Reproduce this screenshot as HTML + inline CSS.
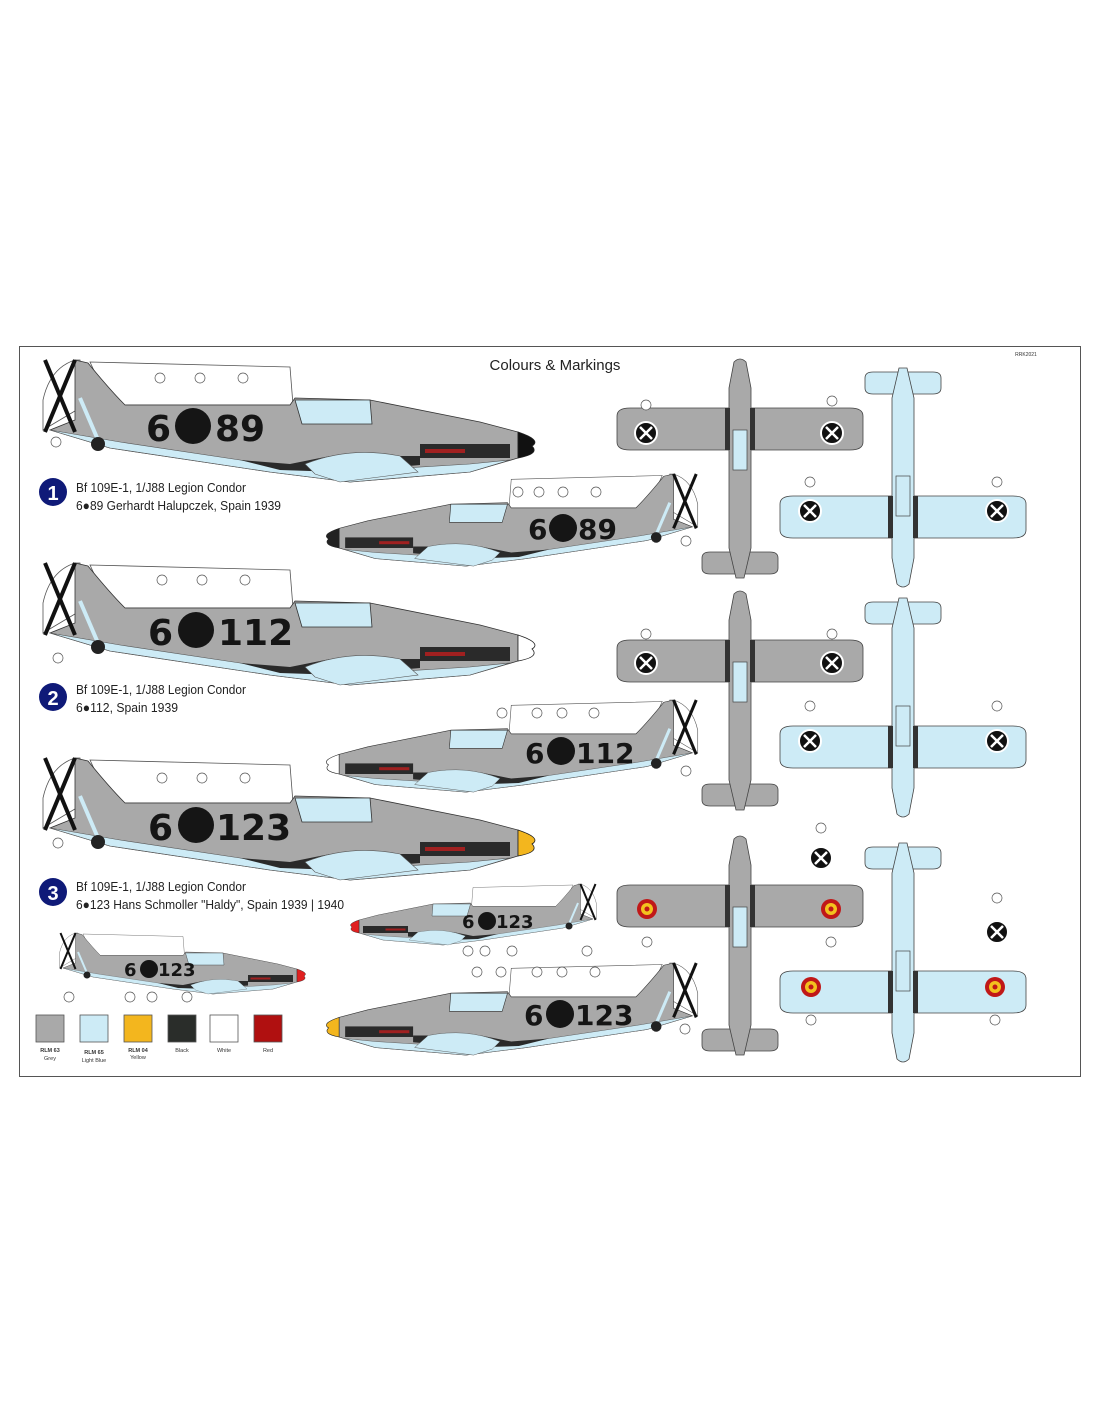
<!DOCTYPE html>
<html><head><meta charset="utf-8"><style>
html,body{margin:0;padding:0;background:#fff;}
svg{display:block;font-family:"Liberation Sans",sans-serif;}
.num{font-family:"DejaVu Sans","Liberation Sans",sans-serif;font-weight:bold;fill:#151515;}
.c{fill:#fff;stroke:#555;stroke-width:0.7}
</style></head><body>
<svg width="1100" height="1422" viewBox="0 0 1100 1422">
<defs>
<g id="side">
  <path d="M50,2 L250,7 L253,45 L70,45 Z" fill="#fff" stroke="#555" stroke-width="0.8"/>
  <path d="M3,40 Q10,8 35,0 L40,0 L45,45 L3,70 Z" fill="#fff" stroke="#555" stroke-width="0.8"/>
  <path d="M35,0 L48,3 Q70,30 85,45 L250,45 L255,38 L330,40 L440,62 L478,72 L478,98 L430,112 L310,122 L230,112 L70,88 L10,70 L35,60 Z" fill="#a9a9a9" stroke="#333" stroke-width="0.8"/>
  <path d="M10,70 L70,88 L230,112 L310,122 L430,112 L470,100 L430,104 L300,112 L240,106 L80,82 Z" fill="#cdebf6" stroke="#555" stroke-width="0.6"/>
  <path d="M200,100 L250,104 L290,96 L380,96 L380,105 L300,112 L240,110 Z" fill="#2a2a2a"/>
  <path d="M255,40 L330,40 L332,64 L262,64 Z" fill="#cdebf6" stroke="#333" stroke-width="0.8"/>
  <path d="M265,104 Q310,86 360,96 L378,112 L300,122 L275,114 Z" fill="#cdebf6" stroke="#555" stroke-width="0.6"/>
  <rect x="380" y="84" width="90" height="14" fill="#2a2a2a"/>
  <rect x="385" y="89" width="40" height="4" fill="#a02020"/>
  <path d="M478,72 Q502,80 492,86 Q500,94 478,98 Z" fill="currentColor" stroke="#222" stroke-width="0.8"/>
  <line x1="5" y1="0" x2="35" y2="72" stroke="#111" stroke-width="4"/>
  <line x1="35" y1="0" x2="5" y2="72" stroke="#111" stroke-width="4"/>
  <line x1="40" y1="38" x2="58" y2="80" stroke="#cdebf6" stroke-width="4"/>
  <circle cx="58" cy="84" r="7" fill="#222"/>
</g>
<g id="top">
  <path d="M-123,48 Q-123,40 -110,40 L110,40 Q123,40 123,48 L123,74 Q123,82 110,82 L-110,82 Q-123,82 -123,74 Z" fill="currentColor" stroke="#444" stroke-width="0.8"/>
  <path d="M-38,190 Q-38,184 -30,184 L30,184 Q38,184 38,190 L38,200 Q38,206 30,206 L-30,206 Q-38,206 -38,200 Z" fill="currentColor" stroke="#444" stroke-width="0.8"/>
  <path d="M-6,-6 Q0,-12 6,-6 L11,20 L11,180 L4,210 L-4,210 L-11,180 L-11,20 Z" fill="currentColor" stroke="#444" stroke-width="0.8"/>
  <rect x="-7" y="62" width="14" height="40" fill="#cdebf6" stroke="#444" stroke-width="0.7"/>
  <rect x="-15" y="40" width="5" height="42" fill="#333"/>
  <rect x="10" y="40" width="5" height="42" fill="#333"/>
</g>
</defs>

<rect x="19.5" y="346.5" width="1061" height="730" fill="none" stroke="#555" stroke-width="1"/>
<text x="555" y="370" font-size="15" text-anchor="middle" fill="#222">Colours &amp; Markings</text>
<text x="1026" y="356" font-size="5" text-anchor="middle" fill="#333">RRK2021</text>

<use href="#side" x="40" y="360" style="color:#111"/>
<text class="num" x="146" y="441" font-size="36">6</text><circle cx="193" cy="426" r="18" fill="#151515"/><text class="num" x="215" y="441" font-size="36">89</text>
<g transform="translate(700,474) scale(-0.755,0.755)" style="color:#222"><use href="#side"/></g>
<text class="num" x="528" y="539" font-size="28">6</text><circle cx="563" cy="528" r="14" fill="#151515"/><text class="num" x="578" y="539" font-size="28">89</text>
<use href="#side" x="40" y="563" style="color:#fff"/>
<text class="num" x="148" y="645" font-size="36">6</text><circle cx="196" cy="630" r="18" fill="#151515"/><text class="num" x="218" y="645" font-size="36">112</text>
<g transform="translate(700,700) scale(-0.755,0.755)" style="color:#fff"><use href="#side"/></g>
<text class="num" x="525" y="763" font-size="28">6</text><circle cx="561" cy="751" r="14" fill="#151515"/><text class="num" x="576" y="763" font-size="28">112</text>
<use href="#side" x="40" y="758" style="color:#f3b61e"/>
<text class="num" x="148" y="840" font-size="36">6</text><circle cx="196" cy="825" r="18" fill="#151515"/><text class="num" x="216" y="840" font-size="36">123</text>
<g transform="translate(700,963) scale(-0.755,0.755)" style="color:#f3b61e"><use href="#side"/></g>
<text class="num" x="524" y="1025" font-size="28">6</text><circle cx="560" cy="1014" r="14" fill="#151515"/><text class="num" x="575" y="1025" font-size="28">123</text>
<g transform="translate(598,884) scale(-0.5,0.5)" style="color:#e02020"><use href="#side"/></g>
<text class="num" x="462" y="928" font-size="18">6</text><circle cx="487" cy="921" r="9" fill="#151515"/><text class="num" x="496" y="928" font-size="18">123</text>
<use href="#side" transform="translate(58,933) scale(0.5,0.5)" style="color:#e02020"/>
<text class="num" x="124" y="976" font-size="18">6</text><circle cx="149" cy="969" r="9" fill="#151515"/><text class="num" x="158" y="976" font-size="18">123</text>

<g font-size="13" fill="#222">
<circle cx="53" cy="492" r="14" fill="#0f1a78"/><text x="53" y="500" font-size="20" font-weight="bold" fill="#fff" text-anchor="middle">1</text>
<text x="76" y="492" textLength="170" lengthAdjust="spacingAndGlyphs">Bf 109E-1, 1/J88 Legion Condor</text><text x="76" y="510" textLength="205" lengthAdjust="spacingAndGlyphs">6●89 Gerhardt Halupczek, Spain 1939</text>
<circle cx="53" cy="697" r="14" fill="#0f1a78"/><text x="53" y="705" font-size="20" font-weight="bold" fill="#fff" text-anchor="middle">2</text>
<text x="76" y="694" textLength="170" lengthAdjust="spacingAndGlyphs">Bf 109E-1, 1/J88 Legion Condor</text><text x="76" y="712" textLength="102" lengthAdjust="spacingAndGlyphs">6●112, Spain 1939</text>
<circle cx="53" cy="892" r="14" fill="#0f1a78"/><text x="53" y="900" font-size="20" font-weight="bold" fill="#fff" text-anchor="middle">3</text>
<text x="76" y="891" textLength="170" lengthAdjust="spacingAndGlyphs">Bf 109E-1, 1/J88 Legion Condor</text><text x="76" y="909" textLength="268" lengthAdjust="spacingAndGlyphs">6●123 Hans Schmoller "Haldy", Spain 1939 | 1940</text>
</g>

<use href="#top" transform="translate(740,368)" style="color:#a9a9a9"/>
<use href="#top" transform="translate(740,600)" style="color:#a9a9a9"/>
<use href="#top" transform="translate(740,845)" style="color:#a9a9a9"/>
<use href="#top" transform="translate(903,578) rotate(180)" style="color:#cdebf6"/>
<use href="#top" transform="translate(903,808) rotate(180)" style="color:#cdebf6"/>
<use href="#top" transform="translate(903,1053) rotate(180)" style="color:#cdebf6"/>

<g stroke="#fff" stroke-width="2">
<circle cx="646" cy="433" r="11" fill="#111"/><circle cx="832" cy="433" r="11" fill="#111"/>
<circle cx="810" cy="511" r="11" fill="#111"/><circle cx="997" cy="511" r="11" fill="#111"/>
<circle cx="646" cy="663" r="11" fill="#111"/><circle cx="832" cy="663" r="11" fill="#111"/>
<circle cx="810" cy="741" r="11" fill="#111"/><circle cx="997" cy="741" r="11" fill="#111"/>
<circle cx="821" cy="858" r="11" fill="#111"/><circle cx="997" cy="932" r="11" fill="#111"/>
</g>
<g stroke="#fff" stroke-width="2.5">
<path d="M640,427 l12,12 m0,-12 l-12,12 M826,427 l12,12 m0,-12 l-12,12 M804,505 l12,12 m0,-12 l-12,12 M991,505 l12,12 m0,-12 l-12,12 M640,657 l12,12 m0,-12 l-12,12 M826,657 l12,12 m0,-12 l-12,12 M804,735 l12,12 m0,-12 l-12,12 M991,735 l12,12 m0,-12 l-12,12 M815,852 l12,12 m0,-12 l-12,12 M991,926 l12,12 m0,-12 l-12,12"/>
</g>
<g>
<circle cx="647" cy="909" r="10" fill="#c01818"/><circle cx="647" cy="909" r="6" fill="#f3c21e"/><circle cx="647" cy="909" r="2.5" fill="#c01818"/>
<circle cx="831" cy="909" r="10" fill="#c01818"/><circle cx="831" cy="909" r="6" fill="#f3c21e"/><circle cx="831" cy="909" r="2.5" fill="#c01818"/>
<circle cx="811" cy="987" r="10" fill="#c01818"/><circle cx="811" cy="987" r="6" fill="#f3c21e"/><circle cx="811" cy="987" r="2.5" fill="#c01818"/>
<circle cx="995" cy="987" r="10" fill="#c01818"/><circle cx="995" cy="987" r="6" fill="#f3c21e"/><circle cx="995" cy="987" r="2.5" fill="#c01818"/>
</g>

<g>
<circle class="c" cx="160" cy="378" r="5"/><circle class="c" cx="200" cy="378" r="5"/><circle class="c" cx="243" cy="378" r="5"/><circle class="c" cx="56" cy="442" r="5"/>
<circle class="c" cx="518" cy="492" r="5"/><circle class="c" cx="539" cy="492" r="5"/><circle class="c" cx="563" cy="492" r="5"/><circle class="c" cx="596" cy="492" r="5"/><circle class="c" cx="686" cy="541" r="5"/>
<circle class="c" cx="162" cy="580" r="5"/><circle class="c" cx="202" cy="580" r="5"/><circle class="c" cx="245" cy="580" r="5"/><circle class="c" cx="58" cy="658" r="5"/>
<circle class="c" cx="502" cy="713" r="5"/><circle class="c" cx="537" cy="713" r="5"/><circle class="c" cx="562" cy="713" r="5"/><circle class="c" cx="594" cy="713" r="5"/><circle class="c" cx="686" cy="771" r="5"/>
<circle class="c" cx="162" cy="778" r="5"/><circle class="c" cx="202" cy="778" r="5"/><circle class="c" cx="245" cy="778" r="5"/><circle class="c" cx="58" cy="843" r="5"/>
<circle class="c" cx="477" cy="972" r="5"/><circle class="c" cx="501" cy="972" r="5"/><circle class="c" cx="537" cy="972" r="5"/><circle class="c" cx="562" cy="972" r="5"/><circle class="c" cx="595" cy="972" r="5"/><circle class="c" cx="685" cy="1029" r="5"/>
<circle class="c" cx="587" cy="951" r="5"/><circle class="c" cx="468" cy="951" r="5"/><circle class="c" cx="485" cy="951" r="5"/><circle class="c" cx="512" cy="951" r="5"/>
<circle class="c" cx="69" cy="997" r="5"/><circle class="c" cx="130" cy="997" r="5"/><circle class="c" cx="152" cy="997" r="5"/><circle class="c" cx="187" cy="997" r="5"/>
<circle class="c" cx="646" cy="405" r="5"/><circle class="c" cx="832" cy="401" r="5"/><circle class="c" cx="810" cy="482" r="5"/><circle class="c" cx="997" cy="482" r="5"/>
<circle class="c" cx="646" cy="634" r="5"/><circle class="c" cx="832" cy="634" r="5"/><circle class="c" cx="810" cy="706" r="5"/><circle class="c" cx="997" cy="706" r="5"/>
<circle class="c" cx="821" cy="828" r="5"/><circle class="c" cx="997" cy="898" r="5"/><circle class="c" cx="647" cy="942" r="5"/><circle class="c" cx="831" cy="942" r="5"/><circle class="c" cx="811" cy="1020" r="5"/><circle class="c" cx="995" cy="1020" r="5"/>
</g>

<g stroke="#555" stroke-width="0.8">
<rect x="36" y="1015" width="28" height="27" fill="#a9a9a9"/>
<rect x="80" y="1015" width="28" height="27" fill="#cdebf6"/>
<rect x="124" y="1015" width="28" height="27" fill="#f3b61e"/>
<rect x="168" y="1015" width="28" height="27" fill="#2a2d2a"/>
<rect x="210" y="1015" width="28" height="27" fill="#fff"/>
<rect x="254" y="1015" width="28" height="27" fill="#b01010"/>
</g>
<g font-size="5.5" fill="#333" text-anchor="middle">
<text x="50" y="1052" font-weight="bold">RLM 63</text><text x="50" y="1060">Grey</text>
<text x="94" y="1054" font-weight="bold">RLM 65</text><text x="94" y="1062">Light Blue</text>
<text x="138" y="1052" font-weight="bold">RLM 04</text><text x="138" y="1059">Yellow</text>
<text x="182" y="1052">Black</text><text x="224" y="1052">White</text><text x="268" y="1052">Red</text>
</g>
</svg>
</body></html>
